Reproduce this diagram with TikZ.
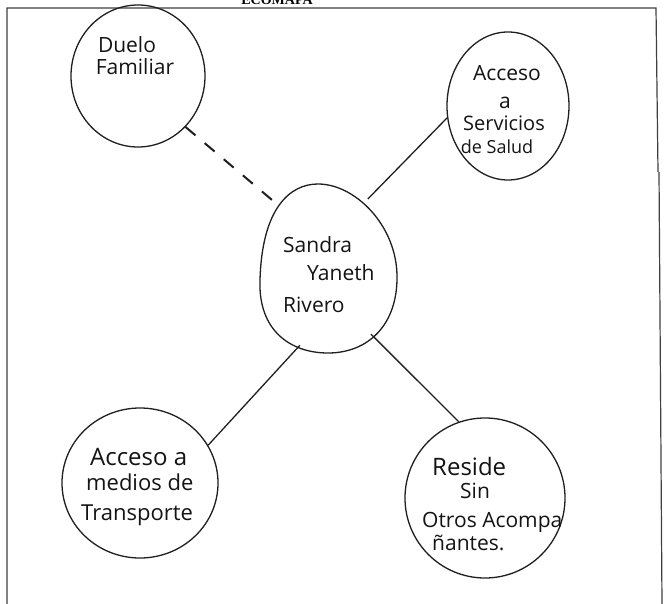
\documentclass[tikz,border=0pt]{standalone}
\usepackage{fontspec}
\setmainfont{Open Sans}
\newfontfamily\titlefont{Liberation Serif}
\usetikzlibrary{shapes.geometric}
\begin{document}
\begin{tikzpicture}[x=1pt,y=-1pt,
  ink/.style={draw=black!88, line width=1.3pt},
  bubble/.style={ellipse, ink, inner sep=0pt},
  hand/.style={anchor=base west, inner sep=0pt, text=black!92},
  handc/.style={anchor=base, inner sep=0pt, text=black!92},
  frameline/.style={draw=black!75, line width=1.2pt}]
\useasboundingbox (0,0) rectangle (664,604);
\fill[white] (0,0) rectangle (664,604);
% title (cut off at the top, as in the scan)
\node[anchor=base, inner sep=0pt] (title) at (277,5) {\titlefont\bfseries\fontsize{14}{14}\selectfont ECOMAPA};
% frame
\coordinate (f1) at (7,604);
\coordinate (f2) at (7,8);
\coordinate (f3) at (656,8);
\coordinate (f4) at (658,172);
\coordinate (f5) at (659,172);
\coordinate (f6) at (662,604);
\draw[frameline] (f1) -- (f2) -- (f3) -- (f4);
\draw[frameline] (f5) -- (f6);
% bubbles
\node[bubble, minimum width=134pt, minimum height=142pt] (duelo) at (138,76) {};
\node[bubble, minimum width=122pt, minimum height=148pt] (salud) at (508,106) {};
\node[ellipse, inner sep=0pt, minimum width=137pt, minimum height=169pt] (sandra) at (328,268) {};
\draw[ink] (318,184) .. controls (290,184) and (262,208) .. (260,280)
  .. controls (258,330) and (290,353) .. (328,353)
  .. controls (368,353) and (398,325) .. (397,275)
  .. controls (396,225) and (355,184) .. (318,184);
\node[bubble, minimum width=156pt, minimum height=150pt] (transporte) at (140,483) {};
\node[bubble, minimum width=160pt, minimum height=160pt] (reside) at (485,498) {};
% texts
\fontsize{21}{22}\selectfont
\node[handc] (d1) at (127,53) {Duelo};
\node[handc] (d2) at (135,75) {Familiar};
\node[handc] (s1) at (507,81) {Acceso};
\node[handc] (s2) at (505,109) {a};
\node[handc] (s3) at (504,131) {\fontsize{20}{20}\selectfont Servicios};
\node[handc] (s4) at (497,154) {\fontsize{18}{18}\selectfont de Salud};
\node[hand] (n1) at (283,253) {Sandra};
\node[hand] (n2) at (307,280) {Yaneth};
\node[hand] (n3) at (283,312) {Rivero};
\node[hand] (t1) at (90,465) {\fontsize{24}{24}\selectfont Acceso a};
\node[hand] (t2) at (86,490) {\fontsize{22}{22}\selectfont medios de};
\node[hand] (t3) at (81,520) {\fontsize{22}{22}\selectfont Transporte};
\node[hand] (r1) at (432,475) {\fontsize{24}{24}\selectfont Reside};
\node[hand] (r2) at (460,498) {Sin};
\node[hand] (r3) at (422,527) {Otros Acompa};
\node[hand] (r4) at (432,550) {ñantes.};
% connectors
\draw[ink, line width=2pt, dash pattern=on 13pt off 12pt] (duelo.-47) -- (sandra.128);
\draw[ink] (sandra.60) -- (salud.-169);
\draw[ink] (sandra.-110) -- (transporte.29);
\draw[ink] (sandra.-57) -- (reside.109);
\end{tikzpicture}
\end{document}
